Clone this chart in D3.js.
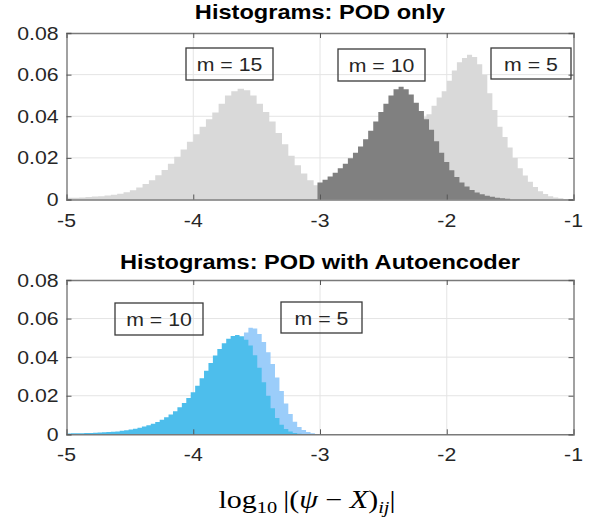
<!DOCTYPE html>
<html><head><meta charset="utf-8">
<script src="https://cdn.jsdelivr.net/npm/d3@7"></script>
<style>body{margin:0;background:#fff}svg{display:block}</style>
</head><body>
<script>
// ---------------- data ----------------
const xTicks = [-5, -4, -3, -2, -1];
const yTicks = [0, 0.02, 0.04, 0.06, 0.08];
const yTickLabels = ["0", "0.02", "0.04", "0.06", "0.08"];
const titles = ["Histograms: POD only", "Histograms: POD with Autoencoder"];

// POD only, m = 15 : bins of 0.05 starting at -5
const pod15Start = -5.0, pod15Width = 0.05;
const pod15 = [0.0008,0.0009,0.0010,0.0012,0.0014,0.0016,0.0019,0.0023,0.0028,0.0035,
  0.0045,0.0058,0.0074,0.0093,0.0116,0.0142,0.0172,0.0205,0.0240,0.0277,
  0.0314,0.0350,0.0385,0.0418,0.0460,0.0500,0.0520,0.0532,0.0525,0.0500,
  0.0460,0.0420,0.0375,0.0320,0.0265,0.0210,0.0165,0.0125,0.0092,0.0068,
  0.0050,0.0036,0.0026,0.0019,0.0014,0.0010,0.0007,0.0005,0.0003,0.0002];

// POD only, m = 10 : bins of 0.04 starting at -3.02
const pod10Start = -3.02, pod10Width = 0.04;
const pod10 = [0.0082,0.0095,0.0110,0.0128,0.0150,0.0172,0.0198,0.0225,0.0255,0.0290,
  0.0330,0.0375,0.0420,0.0460,0.0500,0.0530,0.0542,0.0530,0.0505,0.0465,
  0.0425,0.0385,0.0335,0.0280,0.0225,0.0180,0.0140,0.0108,0.0082,0.0062,
  0.0046,0.0034,0.0025,0.0018,0.0013,0.0009,0.0006,0.0004];

// POD only, m = 5 : bins of 0.04 starting at -2.60
const pod5Start = -2.60, pod5Width = 0.04;
const pod5 = [0.0015,0.0025,0.0045,0.0070,0.0105,0.0150,0.0200,0.0250,0.0300,0.0350,
  0.0395,0.0410,0.0450,0.0490,0.0520,0.0570,0.0620,0.0660,0.0680,0.0695,
  0.0685,0.0650,0.0600,0.0510,0.0430,0.0350,0.0300,0.0250,0.0200,0.0150,
  0.0115,0.0085,0.0060,0.0040,0.0026,0.0016,0.0010,0.0006,0.0003];

// POD with Autoencoder, m = 10 : bins of 0.035 starting at -5
const ae10Start = -5.0, ae10Width = 0.035;
const ae10 = [0.0004,0.0005,0.0005,0.0006,0.0007,0.0007,0.0008,0.0009,0.0010,0.0012,
  0.0013,0.0015,0.0018,0.0021,0.0025,0.0029,0.0034,0.0040,0.0047,0.0055,
  0.0064,0.0075,0.0088,0.0103,0.0120,0.0140,0.0162,0.0188,0.0218,0.0252,
  0.0290,0.0330,0.0370,0.0408,0.0442,0.0472,0.0495,0.0510,0.0515,0.0508,
  0.0490,0.0460,0.0410,0.0345,0.0270,0.0200,0.0135,0.0085,0.0050,0.0027,
  0.0014,0.0007,0.0003,0.0001];

// POD with Autoencoder, m = 5 : bins of 0.035 starting at -4.30
const ae5Start = -4.30, ae5Width = 0.035;
const ae5 = [0.0020,0.0025,0.0030,0.0037,0.0045,0.0055,0.0067,0.0081,0.0098,0.0118,
  0.0142,0.0170,0.0202,0.0238,0.0278,0.0320,0.0365,0.0410,0.0455,0.0495,
  0.0528,0.0553,0.0548,0.0520,0.0478,0.0425,0.0365,0.0295,0.0225,0.0160,
  0.0105,0.0065,0.0038,0.0022,0.0012,0.0006,0.0002];

const labelsTop = ["m = 15", "m = 10", "m = 5"];
const labelsBottom = ["m = 10", "m = 5"];

// ---------------- drawing ----------------
const W = 603, H = 531;
const svg = d3.select("body").append("svg").attr("width", W).attr("height", H);
const x = d3.scaleLinear().domain([-5, -1]).range([66.5, 573.5]);
const SX = 1.18; // horizontal stretch of the figure text
const sans = "'Liberation Sans', Arial, Helvetica, sans-serif";

function stretchedText(g, tx, ty, str, opts) {
  const t = g.append("g").attr("transform", `translate(${tx},${ty}) scale(${opts.sx || SX},1)`)
    .append("text").attr("x", 0).attr("y", 0)
    .attr("font-family", sans).attr("font-size", opts.size)
    .attr("font-weight", opts.weight || "normal")
    .attr("fill", opts.fill || "#262626")
    .attr("text-anchor", opts.anchor || "middle")
    .text(str);
  return t;
}

function panel(y0, y1, title, titleOff, series, labels, boxes) {
  const y = d3.scaleLinear().domain([0, 0.08]).range([y0, y1]);
  const g = svg.append("g");
  // grid
  g.selectAll(".gx").data(xTicks.slice(1, -1)).join("line")
    .attr("x1", d => x(d)).attr("x2", d => x(d)).attr("y1", y(0)).attr("y2", y(0.08))
    .attr("stroke", "#e4e4e4").attr("stroke-width", 1);
  g.selectAll(".gy").data(yTicks.slice(1, -1)).join("line")
    .attr("x1", x(-5)).attr("x2", x(-1)).attr("y1", d => y(d)).attr("y2", d => y(d))
    .attr("stroke", "#e4e4e4").attr("stroke-width", 1);
  // histograms
  series.forEach(s => {
    const pts = s.values.map((v, i) => [s.start + i * s.width, v]);
    pts.push([s.start + s.values.length * s.width, 0]);
    const area = d3.area().x(d => x(d[0])).y0(y(0)).y1(d => y(d[1])).curve(d3.curveStepAfter);
    g.append("path").attr("d", area(pts)).attr("fill", s.color).attr("stroke", "none");
  });
  // axes box
  const axB = d3.axisBottom(x).tickValues(xTicks).tickSize(-5).tickFormat("");
  const axT = d3.axisTop(x).tickValues(xTicks).tickSize(-5).tickFormat("");
  const axL = d3.axisLeft(y).tickValues(yTicks).tickSize(-5).tickFormat("");
  const axR = d3.axisRight(y).tickValues(yTicks).tickSize(-5).tickFormat("");
  [[axB, `translate(0,${y(0)})`], [axT, `translate(0,${y(0.08)})`],
   [axL, `translate(${x(-5)},0)`], [axR, `translate(${x(-1)},0)`]].forEach(([ax, tr]) => {
    const a = g.append("g").attr("transform", tr).call(ax);
    a.selectAll("path").attr("stroke", "#7a7a7a").attr("stroke-width", 1.4);
    a.selectAll("line").attr("stroke", "#555").attr("stroke-width", 1);
  });
  // tick labels
  xTicks.forEach(t => stretchedText(g, x(t), y(0) + 27, String(t), {size: 18}));
  yTicks.forEach((t, i) => stretchedText(g, x(-5) - 8, y(t) + 6.5, yTickLabels[i], {size: 18, anchor: "end"}));
  // title
  stretchedText(g, (x(-5) + x(-1)) / 2, y1 - titleOff, title, {size: 20, weight: "bold", fill: "#000"});
  // annotation boxes
  labels.forEach((lab, i) => {
    const b = boxes[i];
    g.append("rect").attr("x", b[0]).attr("y", b[1]).attr("width", b[2] - b[0]).attr("height", b[3] - b[1])
      .attr("fill", "none").attr("stroke", "#3a3a3a").attr("stroke-width", 1.3);
    stretchedText(g, (b[0] + b[2]) / 2, (b[1] + b[3]) / 2 + 7, lab, {size: 19, sx: 1.12});
  });
}

panel(199.5, 33, titles[0], 14, [
  {values: pod5, start: pod5Start, width: pod5Width, color: "#d9d9d9"},
  {values: pod15, start: pod15Start, width: pod15Width, color: "#d9d9d9"},
  {values: pod10, start: pod10Start, width: pod10Width, color: "#808080"}
], labelsTop, [[186, 48, 273, 80], [338, 49, 425, 81], [491, 48, 571, 79]]);

panel(434.3, 280, titles[1], 11, [
  {values: ae5, start: ae5Start, width: ae5Width, color: "#9bcdfa"},
  {values: ae10, start: ae10Start, width: ae10Width, color: "#4dbeec"}
], labelsBottom, [[115, 303, 203, 335], [281, 302, 362, 333]]);

// x label (LaTeX style)
const xlg = svg.append("g").attr("transform", "translate(307,508) scale(1.2,1)");
const xl = xlg.append("text").attr("x", 0).attr("y", 0).attr("text-anchor", "middle")
  .attr("font-family", "'Liberation Serif', 'Times New Roman', serif").attr("font-size", 25).attr("fill", "#000");
xl.append("tspan").text("log");
xl.append("tspan").attr("font-size", 17).attr("dy", 5).text("10");
xl.append("tspan").attr("dy", -5).text("\u2009|(");
xl.append("tspan").attr("font-style", "italic").text("ψ");
xl.append("tspan").text(" − ");
xl.append("tspan").attr("font-style", "italic").text("X");
xl.append("tspan").text(")");
xl.append("tspan").attr("font-style", "italic").attr("font-size", 17).attr("dy", 5).text("ij");
xl.append("tspan").attr("dy", -5).text("|");
</script>
</body></html>
